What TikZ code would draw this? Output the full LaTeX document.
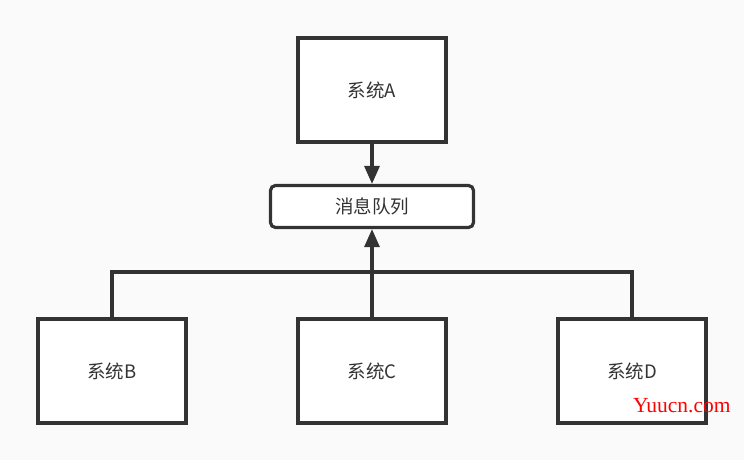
\documentclass[tikz,border=0pt]{standalone}
\usepackage{fontspec}
\newfontfamily\cjk{Noto Sans CJK SC}
\newfontfamily\wm{Liberation Serif}
\usetikzlibrary{arrows.meta}
\definecolor{ink}{HTML}{333333}
\definecolor{bg}{HTML}{FAFAFA}
\begin{document}
\begin{tikzpicture}[x=1pt,y=-1pt,
  sysbox/.style={draw=ink,line width=3.2pt,fill=white,minimum width=148pt,minimum height=104pt,inner sep=0pt,font=\cjk\fontsize{18.5}{20}\selectfont,text=ink},
  queuebox/.style={draw=ink,line width=3.2pt,fill=white,rounded corners=5pt,minimum width=203pt,minimum height=42pt,inner sep=0pt,font=\cjk\fontsize{18.5}{20}\selectfont,text=ink},
  conn/.style={draw=ink,line width=3.2pt},
  arr/.style={conn,-{Triangle[length=18pt,width=15pt]}}]
\fill[bg] (0,0) rectangle (744,460);
\useasboundingbox (0,0) rectangle (744,460);
\node[sysbox] (A) at (372,90) {系统A};
\node[queuebox] (Q) at (372,206.5) {消息队列};
\node[sysbox] (B) at (112,371) {系统B};
\node[sysbox] (C) at (372,371) {系统C};
\node[sysbox] (D) at (632,371) {系统D};
\coordinate (J) at (372,272);
\draw[arr] (A.south) -- (Q.north);
\draw[arr] (C.north) -- (Q.south);
\draw[conn] (B.north) |- (J) -| (D.north);
\node[anchor=base west,inner sep=0pt,text=red,font=\wm\fontsize{21.5}{23}\selectfont] (W) at (633,412) {Yuucn.com};
\end{tikzpicture}
\end{document}
